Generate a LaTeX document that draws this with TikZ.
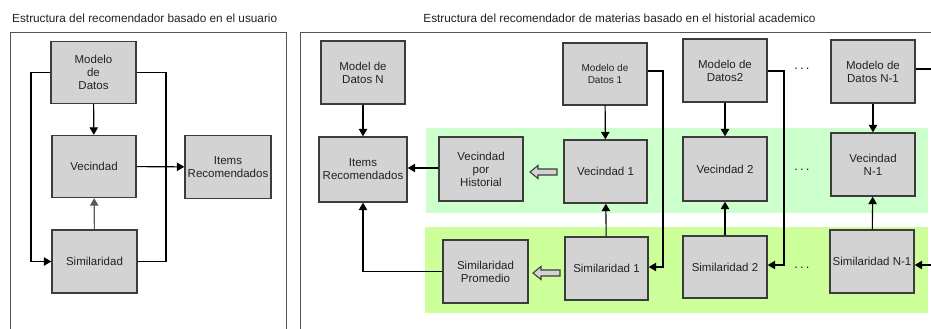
\documentclass[tikz,border=0pt]{standalone}
\usepackage{fontspec}
\setmainfont{Liberation Sans}
\usetikzlibrary{arrows.meta,positioning}
\definecolor{boxfill}{HTML}{D3D3D3}
\definecolor{boxline}{HTML}{3C3C3C}
\definecolor{bandA}{HTML}{CCFFCC}
\definecolor{bandB}{HTML}{CCFF99}
\definecolor{framec}{HTML}{555555}
\definecolor{txt}{HTML}{222222}
\begin{document}
\begin{tikzpicture}[x=1pt,y=-1pt,
  box/.style={draw=boxline,fill=boxfill,line width=1.4pt,minimum width=84pt,minimum height=63pt,
    inner sep=1pt,align=center,text=txt,font=\fontsize{11.5}{13}\selectfont},
  smallbox/.style={box,font=\fontsize{10}{12.5}\selectfont},
  conn/.style={line width=1.1pt,black},
  arr/.style={conn,-{Triangle[length=7.5pt,width=8.5pt]}},
  blockarr/.style={draw=boxline,fill=boxfill,line width=1.1pt,line join=miter},
  frame/.style={draw=framec,line width=1pt},
  title/.style={font=\fontsize{11.8}{14}\selectfont,text=txt,inner sep=0pt},
  dotsnode/.style={font=\fontsize{13}{14}\selectfont,text=txt,inner sep=0pt}]
\useasboundingbox (0,0) rectangle (931,329);
\fill[white] (0,0) rectangle (931,329);

% titles
\node[title,anchor=west] (t1) at (12,18) {Estructura del recomendador basado en el usuario};
\node[title] (t2) at (619.5,18) {Estructura del recomendador de materias basado en el historial academico};

% frames
\draw[frame] (10,329) -- (10,33) -- (286,33) -- (286,329);
\draw[frame] (300,329) -- (300,33) -- (931,33);

% bands
\fill[bandA] (426,128) rectangle (928,213);
\fill[bandB] (425,227) rectangle (928,313);

% ---- left diagram ----
\node[box,minimum width=85pt,minimum height=62pt] (ldm) at (93.5,72.5) {Modelo\\de\\Datos};
\node[box,minimum height=62pt] (lvec) at (94,166.5) {Vecindad};
\node[box,minimum width=85pt] (lsim) at (94.5,261.5) {Similaridad};
\node[box,minimum width=86pt] (litems) at (228,167) {Items\\Recomendados};

\coordinate (la) at (31,72.5);
\coordinate (lb) at (166,72.5);
\draw[arr] (ldm) -- (lvec);
\draw[arr,draw=gray!70!black] (lsim) -- (lvec);
\draw[arr] (lvec) -- (litems);
\draw[arr] (ldm.west) -- (la) |- (lsim.west);
\draw[conn] (ldm.east) -- (lb) |- (lsim.east);

% ---- right diagram ----
\node[box] (rdmN) at (363,72.5) {Model de\\Datos N};
\node[box,minimum width=88pt,minimum height=65pt] (ritems) at (363,169.5) {Items\\Recomendados};
\node[box,minimum height=64pt] (rvh) at (481,169) {Vecindad\\por\\Historial};
\node[box,minimum width=85pt] (rsp) at (485.5,271.5) {Similaridad\\Promedio};

\node[smallbox,minimum width=84pt,minimum height=62pt] (dm1) at (605,74) {Modelo de\\Datos 1};
\node[box,minimum width=83pt] (v1) at (605.5,171.5) {Vecindad 1};
\node[box,minimum width=83pt] (s1) at (606.5,268.5) {Similaridad 1};

\node[box] (dm2) at (725,70.5) {Modelo de\\Datos2};
\node[box,minimum height=64pt] (v2) at (725,169) {Vecindad 2};
\node[box,minimum height=62pt] (s2) at (725,267) {Similaridad 2};

\node[box] (dmN1) at (873,71.5) {Modelo de\\Datos N-1};
\node[box] (vN1) at (873,164.5) {Vecindad\\N-1};
\node[box] (sN1) at (872,261.5) {Similaridad N-1};

\node[dotsnode] (d1) at (802,69) {.\,.\,.};
\node[dotsnode] (d2) at (802,170) {.\,.\,.};
\node[dotsnode] (d3) at (802,268) {.\,.\,.};

% connectors
\draw[arr] (rdmN) -- (ritems);
\draw[arr] (rvh.west |- 0,168) -- (ritems.east |- 0,168);
\coordinate (rc) at (363,271.5);
\draw[arr] (rsp.west) -- (rc) -- (ritems.south);

\draw[arr] (dm1) -- (v1);
\draw[arr] (s1) -- (v1);
\draw[arr] (dm2) -- (v2);
\draw[arr] (s2) -- (v2);
\draw[arr] (dmN1) -- (vN1);
\draw[arr] (sN1) -- (vN1);

\coordinate (k1) at (663,71);
\coordinate (k2) at (784,71);
\draw[arr] (dm1.east |- k1) -- (k1) |- (s1.east |- 0,267);
\draw[arr] (dm2.east |- k2) -- (k2) |- (s2.east |- 0,265);
\coordinate (kN) at (931,69);
\draw[conn] (dmN1.east |- kN) -- (kN);
\coordinate (kS) at (931,265);
\draw[arr] (kS) -- (sN1.east |- kS);

% block arrows
\coordinate (ba1) at (543.5,172);
\coordinate (ba2) at (546.5,273);
\draw[blockarr] (ba1) ++(-13.5,0) -- ++(8,-6.5) -- ++(0,3.5) -- ++(19,0) -- ++(0,6) -- ++(-19,0) -- ++(0,3.5) -- cycle;
\draw[blockarr] (ba2) ++(-13.5,0) -- ++(8,-6.5) -- ++(0,3.5) -- ++(19,0) -- ++(0,6) -- ++(-19,0) -- ++(0,3.5) -- cycle;
\end{tikzpicture}
\end{document}
